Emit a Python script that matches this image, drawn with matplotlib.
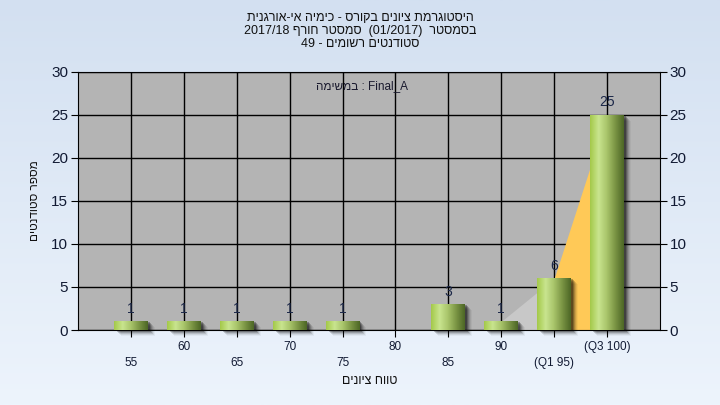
# histogram of grades - recreated from a .NET style chart
import numpy as np
import matplotlib.pyplot as plt
import matplotlib.transforms as mtransforms
from matplotlib.colors import LinearSegmentedColormap
from matplotlib.patches import Rectangle

plt.rcParams['font.family'] = ['Liberation Sans', 'DejaVu Sans']


def rtl(s):
    # matplotlib has no bidi, so hebrew runs are written in visual order
    return s[::-1]


# data
grades = [55, 60, 65, 70, 75, 80, 85, 90, 95, 100]
counts = [1, 1, 1, 1, 1, 0, 3, 1, 6, 25]
tick_names = ['55', '60', '65', '70', '75', '80', '85', '90', '(Q1 95)', '(Q3 100)']
q1_grade = 95
q3_grade = 100

# texts
title1 = rtl('היסטוגרמת ציונים בקורס - כימיה אי-אורגנית')
title2 = '2017/18 ' + rtl('סמסטר חורף') + '  (01/2017)  ' + rtl('בסמסטר')
title3 = '49 - ' + rtl('סטודנטים רשומים')
task_text = rtl('במשימה') + ' : Final_A'
xlabel = rtl('טווח ציונים')
ylabel = rtl('מספר סטודנטים')

fig = plt.figure(figsize=(7.2, 4.05), dpi=100)

# light blue gradient background
bg = fig.add_axes([0, 0, 1, 1], zorder=-10)
bg_cmap = LinearSegmentedColormap.from_list('bg', ['#d3e0f1', '#edf4fc'])
bg.imshow(np.linspace(0, 1, 256).reshape(-1, 1), aspect='auto', cmap=bg_cmap,
          extent=[0, 1, 0, 1])
bg.axis('off')

ax = fig.add_axes([78 / 720, 1 - 330 / 405, 582 / 720, 258 / 405])
ax.set_facecolor('#b4b4b4')
ax.grid(True, color='black', lw=1)
ax.set_axisbelow(True)
for sp in ax.spines.values():
    sp.set_color('black')

# area between quartiles (orange) and the grey part before it
i90 = grades.index(90)
iq1 = grades.index(q1_grade)
iq3 = grades.index(q3_grade)
ax.fill_between(grades[i90:iq1 + 1], counts[i90:iq1 + 1], color='#c8c8c8', lw=0, zorder=1.5)
ax.fill_between(grades[iq1:iq3 + 1], counts[iq1:iq3 + 1], color='#ffc957', lw=0, zorder=1.6)

# bars with cylinder gradient and shadow
barw = 3.2
green = LinearSegmentedColormap.from_list(
    'green', ['#a4c94a', '#c9e58f', '#a8c46a', '#7a9444', '#4d6726'])
grad = np.linspace(0, 1, 64).reshape(1, -1)
bars = ax.bar(grades, counts, width=barw, color='none', lw=0, zorder=3)
for b, c in zip(bars, counts):
    if c == 0:
        continue
    x0 = b.get_x()
    for k, a in zip(range(2, 8), [0.28, 0.22, 0.16, 0.11, 0.07, 0.04]):
        tr = mtransforms.offset_copy(ax.transData, fig=fig, x=k, y=-k + 1, units='dots')
        ax.add_patch(Rectangle((x0, 0), barw, c, transform=tr, color='black',
                               alpha=a, lw=0, zorder=2.5, clip_on=False))
    im = ax.imshow(grad, extent=[x0, x0 + barw, 0, c], aspect='auto', cmap=green,
                   zorder=3)
    im.set_clip_path(b)
    ax.annotate(str(c), (b.get_x() + barw / 2, c), xytext=(0, 9),
                textcoords='offset points', ha='center', va='center',
                fontsize=10, color='#1b2748')

ax.set_xlim(50, 105)
ax.set_ylim(0, 30)
ax.set_yticks(range(0, 31, 5))
ax.set_xticks(grades)
ax.set_xticklabels([('\n' + t) if i % 2 == 0 else t for i, t in enumerate(tick_names)],
                   linespacing=1.45)
ax.tick_params(axis='y', length=5, color='black', labelsize=11, labelcolor='#111a33',
               right=True, labelright=True, pad=2)
ax.tick_params(axis='x', length=5, color='black', labelsize=8.5, labelcolor='#111a33', pad=3)

ax.text(0.488, 0.946, task_text, transform=ax.transAxes, ha='center', va='center',
        fontsize=8.5, color='#1a1a2e')

# titles and axis labels
fig.text(0.5, 1 - 18 / 405, title1, ha='center', va='center', fontsize=9, color='#111')
fig.text(0.5, 1 - 31 / 405, title2, ha='center', va='center', fontsize=9, color='#111')
fig.text(0.5, 1 - 44 / 405, title3, ha='center', va='center', fontsize=9, color='#111')
fig.text(370 / 720, 1 - 381 / 405, xlabel, ha='center', va='center', fontsize=9, color='#111')
fig.text(35 / 720, 1 - 201 / 405, ylabel, ha='center', va='center', fontsize=8.5,
         rotation=90, color='#111')

fig.savefig('out.png', dpi=100)
